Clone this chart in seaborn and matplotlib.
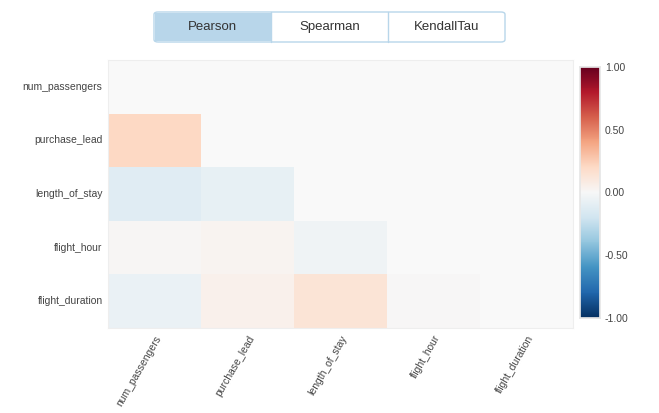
import numpy as np
import pandas as pd
import matplotlib
matplotlib.use("Agg")
import matplotlib.pyplot as plt
from matplotlib.patches import FancyBboxPatch, Rectangle
import seaborn as sns

COLUMNS = ["num_passengers", "purchase_lead", "length_of_stay",
           "flight_hour", "flight_duration"]
# lower triangle of the Pearson matrix (row, col)
ROW_purchase_lead   = [0.21]
ROW_length_of_stay  = [-0.12, -0.08]
ROW_flight_hour     = [0.01, 0.03, -0.04]
ROW_flight_duration = [-0.07, 0.05, 0.14, 0.0]
BUTTONS = ["Pearson", "Spearman", "KendallTau"]
CBAR_TICKS = [-1.0, -0.5, 0.0, 0.5, 1.0]

TEXT = "#444444"

n = len(COLUMNS)
corr = np.eye(n)
for i, row in enumerate([ROW_purchase_lead, ROW_length_of_stay,
                         ROW_flight_hour, ROW_flight_duration], start=1):
    for j, v in enumerate(row):
        corr[i, j] = v
        corr[j, i] = v
df = pd.DataFrame(corr, index=COLUMNS, columns=COLUMNS)
mask = np.triu(np.ones_like(corr, dtype=bool))

sns.set_theme(style="white")
plt.rcParams["font.family"] = ["Liberation Sans", "DejaVu Sans"]

fig = plt.figure(figsize=(6.59, 4.13), dpi=100)
ax = fig.add_axes([0.164, 0.2058, 0.7055, 0.649])
cax = fig.add_axes([0.880, 0.230, 0.0303, 0.608])

sns.heatmap(df, mask=mask, cmap="RdBu_r", vmin=-1, vmax=1, ax=ax,
            cbar_ax=cax, cbar_kws={"ticks": CBAR_TICKS})
ax.set_facecolor("#f9f9f9")
for s in ax.spines.values():
    s.set_visible(True)
    s.set_color("#eeeeee")
    s.set_linewidth(0.8)

ax.tick_params(length=0, pad=4)
ax.set_xticklabels(COLUMNS, rotation=60, ha="right", rotation_mode="anchor",
                   fontsize=7.5, color=TEXT)
ax.set_yticklabels(COLUMNS, rotation=0, fontsize=7.5, color=TEXT)
ax.set_xlabel(""); ax.set_ylabel("")

cax.tick_params(labelsize=7.5, colors=TEXT, length=3, direction="in", width=0.6)
cax.tick_params(color="#dddddd")
cax.set_yticklabels([f"{t:.2f}" for t in CBAR_TICKS], color=TEXT)
for s in cax.spines.values():
    s.set_visible(True)
    s.set_color("#e6e6e6")

# toggle buttons on top
bx0, bw, by, bh = 154 / 659, 117 / 659, 1 - 42 / 413, 30 / 413
outer = FancyBboxPatch((bx0, by), bw * 3, bh, transform=fig.transFigure,
                       boxstyle="round,pad=0,rounding_size=0.006",
                       facecolor="white", edgecolor="#b8d6ea", lw=1.0)
fig.patches.append(outer)
fig.patches.append(Rectangle((bx0 + 0.001, by + 0.002), bw - 0.001, bh - 0.004,
                             transform=fig.transFigure, facecolor="#b8d6ea",
                             edgecolor="none"))
for k, name in enumerate(BUTTONS):
    if k > 0:
        fig.lines.append(plt.Line2D([bx0 + k * bw] * 2, [by, by + bh],
                                    transform=fig.transFigure,
                                    color="#b8d6ea", lw=1.0))
    fig.text(bx0 + (k + 0.5) * bw, by + bh / 2, name, ha="center",
             va="center", fontsize=9.5, color="#333333")

fig.savefig("out.png", dpi=100)
